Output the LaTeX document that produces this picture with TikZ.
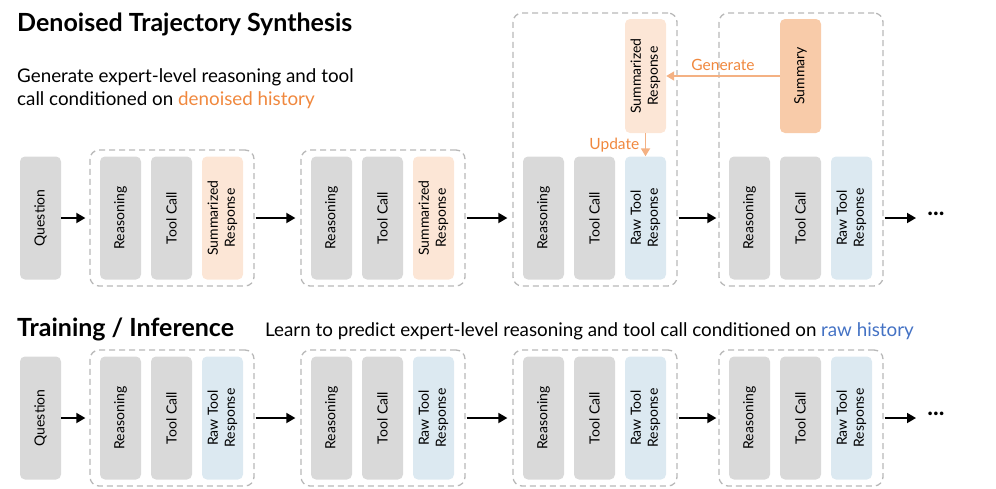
\documentclass[tikz,border=0pt]{standalone}
\usepackage{fontspec}
\setmainfont{Lato}
\usetikzlibrary{arrows.meta}
\definecolor{boxgray}{HTML}{D9D9D9}
\definecolor{rawblue}{HTML}{DCE9F1}
\definecolor{sumlight}{HTML}{FCE6D6}
\definecolor{sumdark}{HTML}{F8CBA9}
\definecolor{dashgray}{HTML}{B8B8B8}
\definecolor{orangetxt}{HTML}{F0883E}
\definecolor{orangearr}{HTML}{F4B183}
\definecolor{bluetxt}{HTML}{4472C4}
\begin{document}
\begin{tikzpicture}[x=1pt,y=-1pt,
  blk/.style={rounded corners=5pt, minimum width=123pt, minimum height=41pt, inner sep=0pt, rotate=90,
    font=\fontsize{14}{17}\selectfont, align=center},
  gbox/.style={blk, fill=boxgray},
  rbox/.style={blk, fill=rawblue},
  sbox/.style={blk, fill=sumlight},
  grp/.style={draw=dashgray, line width=1.3pt, dash pattern=on 6pt off 4pt, rounded corners=9pt,
    minimum width=164pt, inner sep=0pt},
  arr/.style={line width=1.8pt, -{Triangle[length=9pt,width=10pt]}},
  oarr/.style={draw=orangearr, line width=1.8pt, -{Triangle[length=8pt,width=9pt]}},
  olab/.style={text=orangetxt, font=\fontsize{15.5}{17}\selectfont},
  title/.style={anchor=base west, font=\fontsize{25}{28}\bfseries\selectfont, inner sep=0pt},
  sub/.style={anchor=base west, font=\fontsize{18.8}{19}\selectfont, inner sep=0pt, align=left},
  dots/.style={font=\fontsize{24}{24}\bfseries\selectfont, inner sep=0pt}
]
\useasboundingbox (0,0) rectangle (996,488);

% ---------- titles ----------
\node[title] (h1) at (17,31) {Denoised Trajectory Synthesis};
\node[sub] (s1a) at (17,82) {Generate expert-level reasoning and tool};
\node[sub] (s1b) at (17,105) {call conditioned on \textcolor{orangetxt}{denoised history}};
\node[title] (h2) at (17,336) {Training / Inference};
\node[sub] (s2) at (265,336) {Learn to predict expert-level reasoning and tool call conditioned on \textcolor{bluetxt}{raw history}};

% ---------- top row ----------
\node[gbox] (tq) at (40.5,218) {Question};

\node[grp, minimum height=136pt] (tg1) at (172,218) {};
\node[gbox] (t1r) at (120.5,218) {Reasoning};
\node[gbox] (t1t) at (171.5,218) {Tool Call};
\node[sbox] (t1s) at (222.5,218) {Summarized\\Response};

\node[grp, minimum height=136pt] (tg2) at (383,218) {};
\node[gbox] (t2r) at (331.5,218) {Reasoning};
\node[gbox] (t2t) at (382.5,218) {Tool Call};
\node[sbox] (t2s) at (433.5,218) {Summarized\\Response};

\node[grp, minimum height=273pt] (tg3) at (595,149.5) {};
\node[gbox] (t3r) at (543.5,218) {Reasoning};
\node[gbox] (t3t) at (594.5,218) {Tool Call};
\node[rbox] (t3w) at (645.5,218) {Raw Tool\\Response};
\node[sbox, minimum width=114pt] (t3s) at (645.5,76) {Summarized\\Response};

\node[grp, minimum height=273pt] (tg4) at (801,149.5) {};
\node[gbox] (t4r) at (749.5,218) {Reasoning};
\node[gbox] (t4t) at (800.5,218) {Tool Call};
\node[rbox] (t4w) at (851.5,218) {Raw Tool\\Response};
\node[blk, fill=sumdark, minimum width=114pt] (t4m) at (800.5,76) {Summary};

\coordinate (tend) at (916,218);
\node[dots] (tdots) at (936,214) {...};

\draw[arr, shorten >=4pt] (tq) -- (tg1);
\draw[arr, shorten <=1pt, shorten >=5pt] (tg1) -- (tg2);
\draw[arr, shorten <=1pt, shorten >=5pt] (tg2.east) -- (tg3.west |- tg2.east);
\draw[arr, shorten <=1pt, shorten >=2pt] (tg3.east |- t3w.center) -- (tg4.west |- t3w.center);
\draw[arr, shorten <=1pt] (tg4.east |- t4w.center) -- (tend);

\draw[oarr] (t4m) -- node[olab, midway, above=1pt] {Generate} (t3s);
\draw[oarr] (t3s) -- node[olab, midway, left=2pt] {Update} (t3w);

% ---------- bottom row ----------
\node[gbox] (bq) at (40.5,418) {Question};

\node[grp, minimum height=136pt] (bg1) at (172,418) {};
\node[gbox] (b1r) at (120.5,418) {Reasoning};
\node[gbox] (b1t) at (171.5,418) {Tool Call};
\node[rbox] (b1w) at (222.5,418) {Raw Tool\\Response};

\node[grp, minimum height=136pt] (bg2) at (383,418) {};
\node[gbox] (b2r) at (331.5,418) {Reasoning};
\node[gbox] (b2t) at (382.5,418) {Tool Call};
\node[rbox] (b2w) at (433.5,418) {Raw Tool\\Response};

\node[grp, minimum height=136pt] (bg3) at (595,418) {};
\node[gbox] (b3r) at (543.5,418) {Reasoning};
\node[gbox] (b3t) at (594.5,418) {Tool Call};
\node[rbox] (b3w) at (645.5,418) {Raw Tool\\Response};

\node[grp, minimum height=136pt] (bg4) at (801,418) {};
\node[gbox] (b4r) at (749.5,418) {Reasoning};
\node[gbox] (b4t) at (800.5,418) {Tool Call};
\node[rbox] (b4w) at (851.5,418) {Raw Tool\\Response};

\coordinate (bend) at (916,418);
\node[dots] (bdots) at (936,414) {...};

\draw[arr, shorten >=4pt] (bq) -- (bg1);
\draw[arr, shorten <=1pt, shorten >=5pt] (bg1) -- (bg2);
\draw[arr, shorten <=1pt, shorten >=5pt] (bg2) -- (bg3);
\draw[arr, shorten <=1pt, shorten >=2pt] (bg3) -- (bg4);
\draw[arr, shorten <=1pt] (bg4) -- (bend);
\end{tikzpicture}
\end{document}
